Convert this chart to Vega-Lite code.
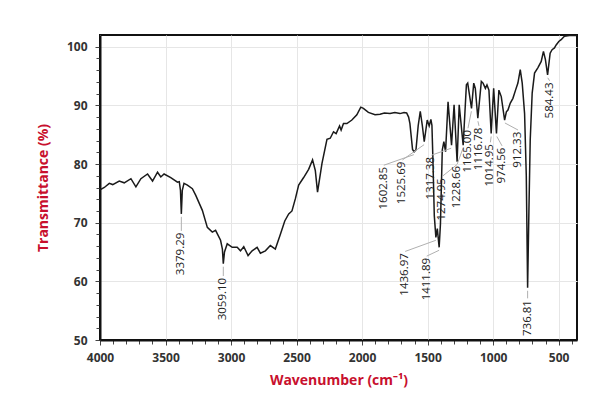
{
  "$schema": "https://vega.github.io/schema/vega-lite/v6.json",
  "width": 477,
  "height": 305,
  "autosize": {"type": "none"},
  "padding": {"left": 100, "top": 35, "right": 23, "bottom": 65},
  "background": "#ffffff",
  "config": {
    "view": {"stroke": "#111111", "strokeWidth": 2},
    "font": "Open Sans",
    "axis": {
      "domainColor": "#111111",
      "domainWidth": 2,
      "tickColor": "#444444",
      "tickWidth": 1,
      "gridColor": "#e6e6e6",
      "gridWidth": 1,
      "labelFont": "Open Sans",
      "labelFontWeight": "bold",
      "labelFontSize": 12,
      "labelColor": "#333333",
      "titleFont": "Open Sans",
      "titleFontWeight": "bold",
      "titleFontSize": 14,
      "titleColor": "#c8102e"
    }
  },
  "datasets": {
    "spectrum": [
      {"wn": 4000, "t": 75.6}, {"wn": 3967, "t": 76.0}, {"wn": 3929, "t": 76.7}, {"wn": 3903, "t": 76.5},
      {"wn": 3853, "t": 77.1}, {"wn": 3815, "t": 76.8}, {"wn": 3764, "t": 77.5}, {"wn": 3726, "t": 76.1},
      {"wn": 3688, "t": 77.5}, {"wn": 3637, "t": 78.3}, {"wn": 3599, "t": 77.1}, {"wn": 3561, "t": 78.6},
      {"wn": 3536, "t": 77.8}, {"wn": 3511, "t": 78.3}, {"wn": 3460, "t": 77.7}, {"wn": 3409, "t": 76.9},
      {"wn": 3395, "t": 77.0}, {"wn": 3386, "t": 75.5}, {"wn": 3379.29, "t": 71.5}, {"wn": 3372, "t": 75.5},
      {"wn": 3359, "t": 76.7}, {"wn": 3333, "t": 76.4}, {"wn": 3295, "t": 75.8}, {"wn": 3270, "t": 74.7},
      {"wn": 3219, "t": 72.1}, {"wn": 3181, "t": 69.2}, {"wn": 3143, "t": 68.4}, {"wn": 3118, "t": 68.7},
      {"wn": 3080, "t": 67.0}, {"wn": 3066, "t": 65.5}, {"wn": 3059.1, "t": 63.0}, {"wn": 3050, "t": 65.0},
      {"wn": 3029, "t": 66.4}, {"wn": 2991, "t": 65.8}, {"wn": 2953, "t": 65.8}, {"wn": 2928, "t": 65.2},
      {"wn": 2903, "t": 65.9}, {"wn": 2870, "t": 64.4}, {"wn": 2839, "t": 65.2}, {"wn": 2801, "t": 65.8},
      {"wn": 2776, "t": 64.8}, {"wn": 2738, "t": 65.2}, {"wn": 2700, "t": 66.1}, {"wn": 2662, "t": 65.5},
      {"wn": 2624, "t": 68.0}, {"wn": 2590, "t": 70.3}, {"wn": 2560, "t": 71.5}, {"wn": 2535, "t": 72.0},
      {"wn": 2509, "t": 74.1}, {"wn": 2484, "t": 76.4}, {"wn": 2446, "t": 77.7}, {"wn": 2408, "t": 79.1},
      {"wn": 2378, "t": 80.7}, {"wn": 2357, "t": 78.9}, {"wn": 2340, "t": 75.2}, {"wn": 2306, "t": 80.1},
      {"wn": 2268, "t": 84.2}, {"wn": 2243, "t": 84.4}, {"wn": 2218, "t": 85.5}, {"wn": 2198, "t": 85.2},
      {"wn": 2172, "t": 86.5}, {"wn": 2160, "t": 85.8}, {"wn": 2142, "t": 86.9}, {"wn": 2116, "t": 86.9},
      {"wn": 2078, "t": 87.5}, {"wn": 2040, "t": 88.4}, {"wn": 2010, "t": 89.7}, {"wn": 1990, "t": 89.5},
      {"wn": 1952, "t": 88.8}, {"wn": 1901, "t": 88.4}, {"wn": 1863, "t": 88.5}, {"wn": 1830, "t": 88.7},
      {"wn": 1787, "t": 88.6}, {"wn": 1750, "t": 88.8}, {"wn": 1711, "t": 88.6}, {"wn": 1680, "t": 88.8},
      {"wn": 1660, "t": 88.7}, {"wn": 1645, "t": 88.0}, {"wn": 1635, "t": 86.9}, {"wn": 1615, "t": 82.5},
      {"wn": 1602.85, "t": 82.1}, {"wn": 1589, "t": 82.4}, {"wn": 1572, "t": 86.5}, {"wn": 1556, "t": 89.0},
      {"wn": 1540, "t": 86.5}, {"wn": 1525.69, "t": 83.8}, {"wn": 1503, "t": 87.5}, {"wn": 1488, "t": 86.5},
      {"wn": 1475, "t": 87.6}, {"wn": 1467, "t": 86.6}, {"wn": 1460, "t": 81.2}, {"wn": 1449, "t": 71.2},
      {"wn": 1436.97, "t": 67.5}, {"wn": 1426, "t": 69.0}, {"wn": 1411.89, "t": 65.8}, {"wn": 1402, "t": 69.8},
      {"wn": 1388, "t": 82.4}, {"wn": 1376, "t": 83.8}, {"wn": 1363, "t": 82.1}, {"wn": 1344, "t": 90.6},
      {"wn": 1317.38, "t": 83.2}, {"wn": 1298, "t": 90.1}, {"wn": 1274.95, "t": 80.4}, {"wn": 1259, "t": 90.1},
      {"wn": 1228.66, "t": 83.2}, {"wn": 1204, "t": 93.5}, {"wn": 1194, "t": 93.8}, {"wn": 1165, "t": 89.5},
      {"wn": 1148, "t": 93.8}, {"wn": 1136, "t": 92.9}, {"wn": 1116.78, "t": 87.8}, {"wn": 1090, "t": 94.1},
      {"wn": 1077, "t": 93.8}, {"wn": 1059, "t": 92.9}, {"wn": 1047, "t": 93.5}, {"wn": 1032, "t": 92.6},
      {"wn": 1014.95, "t": 85.2}, {"wn": 996, "t": 92.9}, {"wn": 974.56, "t": 85.2}, {"wn": 956, "t": 92.6},
      {"wn": 938, "t": 91.5}, {"wn": 912.33, "t": 87.5}, {"wn": 899, "t": 88.9}, {"wn": 887, "t": 89.2},
      {"wn": 869, "t": 90.4}, {"wn": 849, "t": 91.2}, {"wn": 829, "t": 92.6}, {"wn": 811, "t": 93.8},
      {"wn": 793, "t": 96.1}, {"wn": 778, "t": 93.8}, {"wn": 760, "t": 88.6}, {"wn": 747, "t": 78.0},
      {"wn": 736.81, "t": 58.9}, {"wn": 727, "t": 72.0}, {"wn": 717, "t": 84.1}, {"wn": 702, "t": 92.1},
      {"wn": 684, "t": 95.5}, {"wn": 659, "t": 96.4}, {"wn": 633, "t": 97.5}, {"wn": 616, "t": 99.2},
      {"wn": 601, "t": 97.8}, {"wn": 584.43, "t": 95.2}, {"wn": 565, "t": 98.9}, {"wn": 550, "t": 99.5},
      {"wn": 532, "t": 99.8}, {"wn": 519, "t": 100.3}, {"wn": 499, "t": 100.9}, {"wn": 481, "t": 101.2},
      {"wn": 456, "t": 101.8}, {"wn": 418, "t": 101.9}, {"wn": 360, "t": 101.9}
    ],
    "peaks": [
      {"label": "3379.29", "tx": 3379.29, "ty": 68.3, "x1": 3379.29, "y1": 68.6, "x2": 3379.29, "y2": 71.0},
      {"label": "3059.10", "tx": 3059.1, "ty": 60.6, "x1": 3059.1, "y1": 60.9, "x2": 3059.1, "y2": 62.5},
      {"label": "1602.85", "tx": 1834, "ty": 79.5, "x1": 1834, "y1": 79.8, "x2": 1605, "y2": 81.6},
      {"label": "1525.69", "tx": 1692, "ty": 80.4, "x1": 1692, "y1": 80.7, "x2": 1527, "y2": 83.3},
      {"label": "1317.38", "tx": 1471, "ty": 81.2, "x1": 1471, "y1": 81.5, "x2": 1320, "y2": 82.7},
      {"label": "1274.95", "tx": 1388, "ty": 77.6, "x1": 1388, "y1": 77.9, "x2": 1276, "y2": 79.9},
      {"label": "1228.66", "tx": 1274, "ty": 79.7, "x1": 1274, "y1": 80.0, "x2": 1230, "y2": 82.7},
      {"label": "1165.00", "tx": 1192, "ty": 85.8, "x1": 1192, "y1": 86.1, "x2": 1166, "y2": 89.0},
      {"label": "1116.78", "tx": 1108, "ty": 86.2, "x1": 1108, "y1": 86.5, "x2": 1116, "y2": 87.3},
      {"label": "1014.95", "tx": 1021, "ty": 83.4, "x1": 1021, "y1": 83.7, "x2": 1015, "y2": 84.7},
      {"label": "974.56", "tx": 932, "ty": 82.8, "x1": 932, "y1": 83.1, "x2": 972, "y2": 84.7},
      {"label": "912.33", "tx": 810, "ty": 85.5, "x1": 810, "y1": 85.8, "x2": 910, "y2": 87.0},
      {"label": "584.43", "tx": 569, "ty": 93.9, "x1": 569, "y1": 94.2, "x2": 583, "y2": 94.7},
      {"label": "1436.97", "tx": 1671, "ty": 64.8, "x1": 1671, "y1": 65.1, "x2": 1437, "y2": 67.0},
      {"label": "1411.89", "tx": 1507, "ty": 64.0, "x1": 1507, "y1": 64.3, "x2": 1412, "y2": 65.3},
      {"label": "736.81", "tx": 736.81, "ty": 56.8, "x1": 736.81, "y1": 57.1, "x2": 736.81, "y2": 58.4}
    ]
  },
  "layer": [
    {
      "data": {"name": "spectrum"},
      "mark": {"type": "line", "color": "#1a1a1a", "strokeWidth": 1.5, "clip": true},
      "encoding": {
        "x": {
          "field": "wn", "type": "quantitative", "title": "Wavenumber (cm⁻¹)",
          "scale": {"domain": [360, 4000], "reverse": true, "nice": false, "zero": false},
          "axis": {
            "values": [4000, 3900, 3800, 3700, 3600, 3500, 3400, 3300, 3200, 3100, 3000, 2900, 2800, 2700, 2600, 2500, 2400, 2300, 2200, 2100, 2000, 1900, 1800, 1700, 1600, 1500, 1400, 1300, 1200, 1100, 1000, 900, 800, 700, 600, 500, 400],
            "tickCount": 200,
            "labelExpr": "datum.value % 500 === 0 ? datum.value : ''",
            "tickSize": {"condition": {"test": "datum.value % 500 === 0", "value": 5}, "value": 4},
            "gridOpacity": {"condition": {"test": "datum.value % 500 === 0", "value": 1}, "value": 0},
            "labelPadding": 7,
            "titlePadding": 10,
            "labelFlush": false,
            "labelOverlap": false
          }
        },
        "y": {
          "field": "t", "type": "quantitative", "title": "Transmittance (%)",
          "scale": {"domain": [50, 102], "nice": false, "zero": false},
          "axis": {
            "values": [50, 52, 54, 56, 58, 60, 62, 64, 66, 68, 70, 72, 74, 76, 78, 80, 82, 84, 86, 88, 90, 92, 94, 96, 98, 100],
            "tickCount": 200,
            "labelExpr": "datum.value % 10 === 0 ? datum.value : ''",
            "tickSize": {"condition": {"test": "datum.value % 10 === 0", "value": 5}, "value": 4},
            "gridOpacity": {"condition": {"test": "datum.value % 10 === 0", "value": 1}, "value": 0},
            "labelPadding": 8,
            "titlePadding": 16,
            "labelFlush": false,
            "labelOverlap": false
          }
        }
      }
    },
    {
      "data": {"name": "peaks"},
      "mark": {"type": "rule", "color": "#b0b0b0", "strokeWidth": 1},
      "encoding": {
        "x": {"field": "x1", "type": "quantitative", "title": "Wavenumber (cm⁻¹)"},
        "y": {"field": "y1", "type": "quantitative", "title": "Transmittance (%)"},
        "x2": {"field": "x2"},
        "y2": {"field": "y2"}
      }
    },
    {
      "data": {"name": "peaks"},
      "mark": {"type": "text", "angle": 270, "align": "right", "baseline": "middle", "font": "Open Sans", "fontSize": 11.5, "color": "#222222"},
      "encoding": {
        "x": {"field": "tx", "type": "quantitative", "title": "Wavenumber (cm⁻¹)"},
        "y": {"field": "ty", "type": "quantitative", "title": "Transmittance (%)"},
        "text": {"field": "label"}
      }
    }
  ]
}
